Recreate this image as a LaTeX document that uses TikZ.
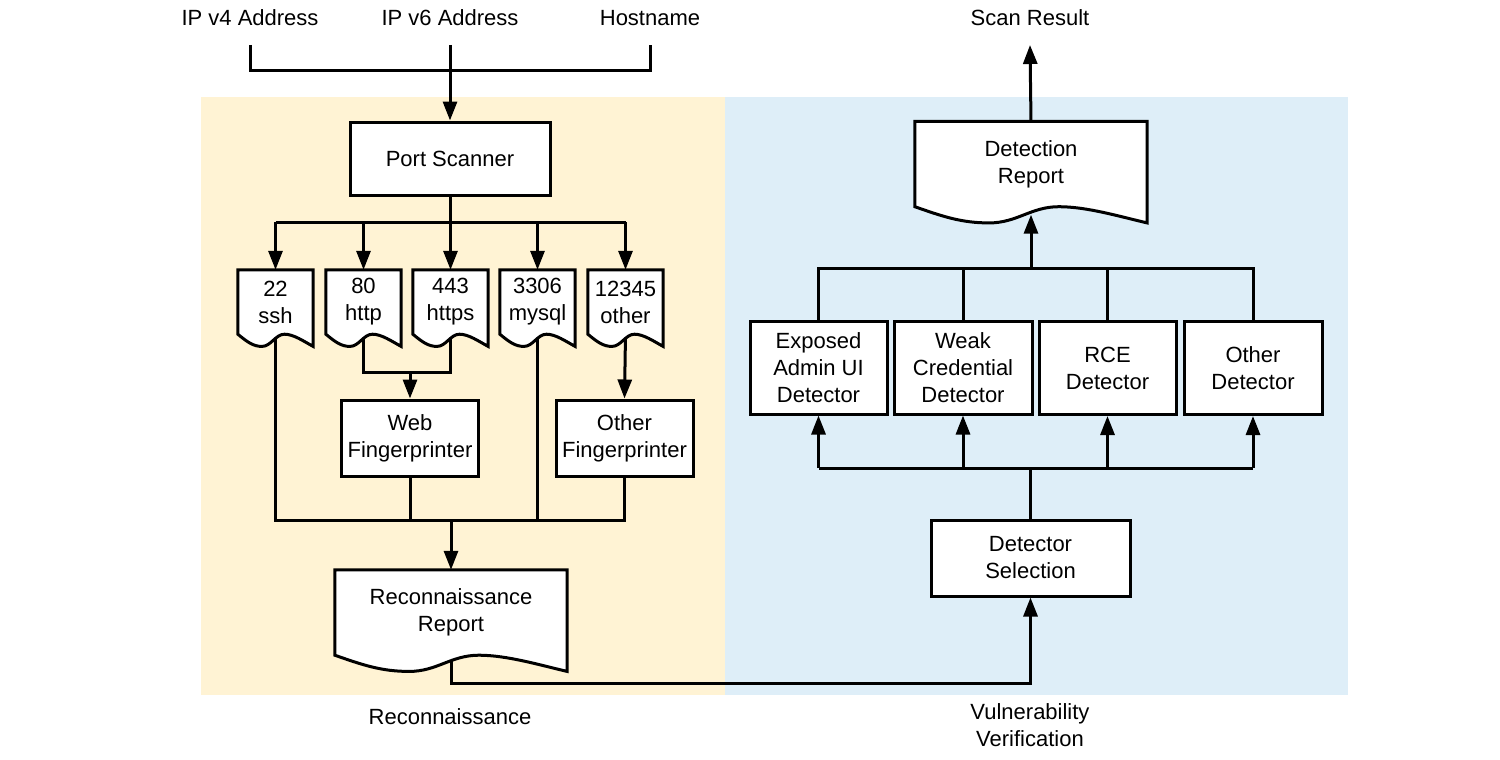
\documentclass[tikz,border=0pt]{standalone}
\usepackage{fontspec}
\setmainfont{Liberation Sans}
\usetikzlibrary{arrows.meta,calc}
\pgfdeclarelayer{bg}\pgfdeclarelayer{lines}\pgfdeclarelayer{shapes}
\pgfsetlayers{bg,lines,shapes,main}
\definecolor{recbg}{HTML}{FFF3D4}
\definecolor{vulbg}{HTML}{DEEEF8}
\newcommand\docoutline[1]{%
\begin{pgfonlayer}{shapes}
\draw[docline] let \p1=(#1.north west), \p2=(#1.south east), \n1={\x2-\x1}, \n2={0.19*(\y1-\y2)} in
 (\x1,\y1) -- (\x2,\y1) -- ({\x2},{\y2-\n2})
 .. controls ({\x1+0.88*\n1},{\y2-0.6*\n2}) and ({\x1+0.74*\n1},{\y2}) .. ({\x1+0.62*\n1},{\y2})
 .. controls ({\x1+0.5*\n1},{\y2}) and ({\x1+0.44*\n1},{\y2-\n2}) .. ({\x1+0.32*\n1},{\y2-\n2})
 .. controls ({\x1+0.2*\n1},{\y2-\n2}) and ({\x1+0.12*\n1},{\y2-0.6*\n2}) .. (\x1,\y2) -- cycle;
\end{pgfonlayer}}
\begin{document}
\begin{tikzpicture}[x=1pt,y=-1pt,
 every node/.style={font=\fontsize{22}{27}\selectfont, align=center, inner sep=0pt},
 box/.style={draw, fill=white, line width=3pt},
 docline/.style={draw, fill=white, line width=3pt},
 ln/.style={line width=3pt},
 arr/.style={line width=3pt, -{Triangle[length=19pt,width=14pt]}}]
\useasboundingbox (0,0) rectangle (1500,760);
% backgrounds
\begin{pgfonlayer}{bg}
\fill[recbg] (201,97) rectangle (725,695);
\fill[vulbg] (725,97) rectangle (1348,695);
\end{pgfonlayer}
% labels
\node (ip4) at (250,18) {IP v4 Address};
\node (ip6) at (450,18) {IP v6 Address};
\node (host) at (650,18) {Hostname};
\node (scan) at (1030,18) {Scan Result};
\node (reclab) at (450,717) {Reconnaissance};
\node (vullab) at (1030,725.5) {Vulnerability\\Verification};
% boxes
\node[box, minimum width=200pt, minimum height=73pt] (ps) at (450,158.5) {Port Scanner};
\node[box, minimum width=137pt, minimum height=76pt] (web) at (410,438) {Web\\Fingerprinter};
\node[box, minimum width=137pt, minimum height=76pt] (oth) at (624.5,438) {Other\\Fingerprinter};
\node[box, minimum width=199pt, minimum height=76pt] (sel) at (1030.5,558) {Detector\\Selection};
\node[box, minimum width=137pt, minimum height=93pt] (c1) at (818.5,367.5) {Exposed\\Admin UI\\Detector};
\node[box, minimum width=138pt, minimum height=93pt] (c2) at (963,367.5) {Weak\\Credential\\Detector};
\node[box, minimum width=137pt, minimum height=93pt] (c3) at (1107.5,368) {RCE\\Detector};
\node[box, minimum width=138pt, minimum height=93pt] (c4) at (1253,368) {Other\\Detector};
% documents
\node[minimum width=75pt, minimum height=64pt] (d22) at (275.5,302) {22\\ssh};
\node[minimum width=75pt, minimum height=64pt] (d80) at (363.5,302) {80\\http};
\node[minimum width=75pt, minimum height=64pt] (d443) at (450.5,302) {443\\https};
\node[minimum width=75pt, minimum height=64pt] (d3306) at (537.5,302) {3306\\mysql};
\node[minimum width=75pt, minimum height=64pt] (d12345) at (625.5,302) {12345\\other};
\node[minimum width=232pt, minimum height=85pt] (rec) at (451,612.5) {Reconnaissance\\Report};
\node[minimum width=232pt, minimum height=85pt] (det) at (1031,164) {Detection\\Report};
\foreach \d in {d22,d80,d443,d3306,d12345,rec,det} {\docoutline{\d}}
\coordinate (detw) at ([yshift=-8pt]det.south);
% connectors
\begin{pgfonlayer}{lines}
\draw[ln] (ip4.south|-0,45) -- (ip4.south|-0,71) -- (host.south|-0,71) -- (host.south|-0,45);
\draw[arr] (ip6.south|-0,45) -- (ps.north);
\draw[ln] (ps.south) -- (ps.south|-0,222);
\draw[ln] (d22.north|-0,222) -- (d12345.north|-0,222);
\foreach \d in {d22,d80,d443,d3306,d12345} {\draw[arr] (\d.north|-0,222) -- (\d.north);}
\draw[ln] (d80.south) -- (d80.south|-0,372) -- (d443.south|-0,372) -- (d443.south);
\draw[arr] (web.north|-0,372) -- (web.north);
\draw[arr] (d12345.south) -- (oth.north);
\draw[ln] (d22.south) -- (d22.south|-0,520) -- (oth.south|-0,520) -- (oth.south);
\draw[ln] (web.south) -- (web.south|-0,520);
\draw[ln] (d3306.south) -- (d3306.south|-0,520);
\draw[arr] (rec.north|-0,520) -- (rec.north);
\draw[arr] (rec.south) -- (rec.south|-0,683) -| (sel.south);
\draw[ln] (sel.north) -- (sel.north|-0,468);
\draw[ln] (c1.south|-0,468) -- (c4.south|-0,468);
\foreach \c in {c1,c2,c3,c4} {\draw[arr] (\c.south|-0,468) -- (\c.south);}
\draw[ln] (c1.north) -- (c1.north|-0,268) -- (c4.north|-0,268) -- (c4.north);
\draw[ln] (c2.north) -- (c2.north|-0,268);
\draw[ln] (c3.north) -- (c3.north|-0,268);
\draw[arr] (det.south|-0,268) -- (detw);
\draw[arr] (det.north) -- (scan.south|-0,45);
\end{pgfonlayer}
\end{tikzpicture}
\end{document}
